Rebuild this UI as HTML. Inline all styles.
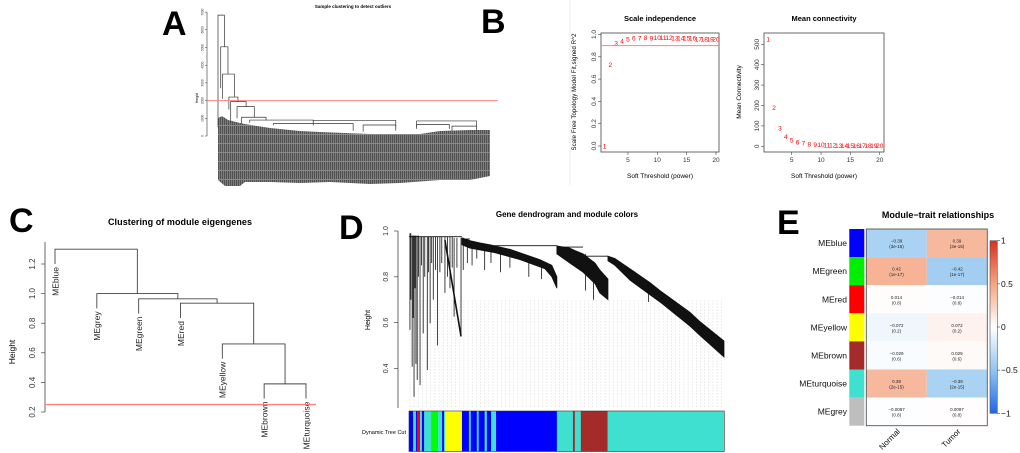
<!DOCTYPE html>
<html><head><meta charset="utf-8"><style>
html,body{margin:0;padding:0;background:#fff;}
svg{display:block;font-family:"Liberation Sans",Arial,sans-serif;}
</style></head><body>
<svg id="fig" width="1020" height="453" viewBox="0 0 1020 453" xmlns="http://www.w3.org/2000/svg">
<defs>
<pattern id="leafpat" width="2" height="9" patternUnits="userSpaceOnUse"><rect width="2" height="9" fill="#8a8a8a"/><rect width="1.2" height="8" fill="#505050"/></pattern>
<linearGradient id="cbar" x1="0" y1="0" x2="0" y2="1">
<stop offset="0" stop-color="#d7301f"/><stop offset="0.25" stop-color="#f4a582"/><stop offset="0.5" stop-color="#ffffff"/><stop offset="0.75" stop-color="#92c5f0"/><stop offset="1" stop-color="#2166e6"/>
</linearGradient>
</defs>
<line x1="570" y1="0" x2="570" y2="185" stroke="#eee"/>
<g font-weight="bold" font-size="34" fill="#000">
<text x="162" y="35">A</text>
<text x="481" y="33">B</text>
<text x="9" y="232">C</text>
<text x="339" y="239">D</text>
<text x="777" y="234">E</text>
</g>
<text x="353" y="8" font-size="4.5" font-weight="bold" text-anchor="middle">Sample clustering to detect outliers</text>
<text x="660" y="21" font-size="7.5" font-weight="bold" text-anchor="middle">Scale independence</text>
<text x="824" y="21" font-size="7.5" font-weight="bold" text-anchor="middle">Mean connectivity</text>
<text x="180" y="225" font-size="9" font-weight="bold" text-anchor="middle" textLength="144">Clustering of module eigengenes</text>
<text x="567" y="217" font-size="8" font-weight="bold" text-anchor="middle">Gene dendrogram and module colors</text>
<text x="938" y="218" font-size="9" font-weight="bold" text-anchor="middle">Module−trait relationships</text>
<text transform="translate(198,98) rotate(-90)" font-size="3.5" text-anchor="middle">Height</text>
<text transform="translate(576,92) rotate(-90)" font-size="6" text-anchor="middle" textLength="117">Scale Free Topology Model Fit,signed R^2</text>
<text x="660" y="178" font-size="6.5" text-anchor="middle">Soft Threshold (power)</text>
<text transform="translate(741,92) rotate(-90)" font-size="6.5" text-anchor="middle">Mean Connectivity</text>
<text x="824" y="178" font-size="6.5" text-anchor="middle">Soft Threshold (power)</text>
<text transform="translate(15,352) rotate(-90)" font-size="8.5" text-anchor="middle">Height</text>
<text transform="translate(370,320) rotate(-90)" font-size="7" text-anchor="middle">Height</text>
<text x="406" y="434" font-size="5.5" text-anchor="end">Dynamic Tree Cut</text>
<g id="root"></g>
</svg>
<script>
const NS='http://www.w3.org/2000/svg';
const root=document.getElementById('root');
function mk(tag,attrs,parent){const e=document.createElementNS(NS,tag);for(const k in attrs)e.setAttribute(k,attrs[k]);(parent||root).appendChild(e);return e;}

/* ---------- Panel A data ---------- */
const aTicks=[0,1000,2000,3000,4000,5000,6000,7000];
const aCutHeight=2000;
const aMerges=[[0,7,6830,500,5040],[3,11,5040,2700,3500],[5,18,3500,2100,2200],[12,22,2200,1500,1940],[14,31,1940,800,1660],[21,40,1660,1000,1060],[26,53,1060,700,900],[35,105,900,750,820],[105,196,880,600,500],[61,149,700,600,300],[219,285,850,500,550],[219,255,650,400,400],[258,285,560,300,300],[160,196,620,250,300]];
/* ---------- Panel B data ---------- */
const bPowers=[1,2,3,4,5,6,7,8,9,10,11,12,13,14,15,16,17,18,19,20];
const bR2=[0.0,0.73,0.92,0.94,0.96,0.965,0.965,0.97,0.965,0.97,0.97,0.97,0.965,0.965,0.965,0.965,0.96,0.96,0.96,0.96];
const bConn=[525,190,88,48,30,21,15,11,9,7,6,5,4,4,3,3,2,2,2,2];
const bR2Ticks=[0,0.2,0.4,0.6,0.8,1.0];
const bConnTicks=[0,100,200,300,400,500];
const bXTicks=[5,10,15,20];
/* ---------- Panel C data ---------- */
const cLeaves=['MEblue','MEgrey','MEgreen','MEred','MEyellow','MEbrown','MEturquoise'];
const cMerge=[[-6,-7],[-5,1],[-4,2],[-3,3],[-2,4],[-1,5]];
const cHeights=[0.39,0.66,0.935,0.965,1.0,1.30];
const cTicks=[0.2,0.4,0.6,0.8,1.0,1.2];
const cCut=0.25;
/* ---------- Panel D data ---------- */
const dTicks=[0.4,0.6,0.8,1.0];
const dTopLinks=[[0,168,0.975],[168,193,0.965],[193,469,0.936],[469,552,0.93],[552,631,0.89]];
const dBandUpper=[[[168,0.97],[193,0.958],[225,0.948],[257,0.94],[320,0.92],[352,0.905],[415,0.875],[453,0.85],[469,0.80]],[[469,0.935],[510,0.925],[526,0.915],[552,0.90],[590,0.86],[605,0.83],[631,0.79]],[[631,0.89],[653,0.88],[701,0.835],[764,0.775],[796,0.74],[891,0.645],[922,0.605],[999,0.52]]];
const dBandLower=[[[469,0.75],[453,0.80],[431,0.835],[352,0.875],[273,0.905],[193,0.925],[168,0.94]],[[631,0.70],[605,0.73],[590,0.77],[552,0.82],[510,0.86],[469,0.90]],[[999,0.45],[922,0.545],[891,0.585],[796,0.69],[701,0.785],[653,0.85],[631,0.87]]];
const dDrops=[[3,0.99,0.568],[6,0.99,0.70],[10,0.98,0.407],[13,0.98,0.62],[16,0.98,0.276],[19,0.98,0.75],[22,0.98,0.42],[26,0.98,0.35],[30,0.98,0.80],[35,0.975,0.327],[40,0.975,0.85],[45,0.975,0.553],[50,0.975,0.80],[58,0.975,0.393],[62,0.975,0.82],[67,0.975,0.597],[72,0.975,0.86],[77,0.975,0.70],[84,0.975,0.83],[90,0.975,0.50],[98,0.975,0.82],[104,0.975,0.86],[114,0.975,0.73],[122,0.975,0.80],[130,0.975,0.75],[137,0.975,0.84],[143,0.97,0.626],[152,0.97,0.84],[165,0.97,0.54],[172,0.97,0.83],[185,0.96,0.86],[200,0.955,0.85],[215,0.95,0.88],[240,0.945,0.83],[260,0.94,0.86],[290,0.93,0.82],[320,0.91,0.84],[380,0.88,0.80],[420,0.86,0.79],[560,0.90,0.74],[585,0.86,0.70],[760,0.77,0.69],[840,0.69,0.64],[900,0.62,0.58]];
const dSlant=[[114,0.96],[165,0.54]];
const dModules=[['blue',0,13],['turquoise',13,22],['blue',22,26],['red',26,35],['turquoise',35,41],['blue',41,48],['turquoise',48,70],['green',70,92],['turquoise',92,105],['blue',105,111],['turquoise',111,114],['yellow',114,168],['blue',168,190],['turquoise',190,196],['blue',196,215],['turquoise',215,221],['blue',221,240],['turquoise',240,247],['blue',247,260],['turquoise',260,276],['blue',276,469],['turquoise',469,520],['brown',520,526],['turquoise',526,545],['brown',545,630],['turquoise',630,1000]];
/* ---------- Panel E data ---------- */
const eModules=['MEblue','MEgreen','MEred','MEyellow','MEbrown','MEturquoise','MEgrey'];
const eColors=['#0000ff','#00ee00','#ff0000','#ffff00','#a52a2a','#40e0d0','#bebebe'];
const eTraits=['Normal','Tumor'];
const eCorNormal=[-0.39,0.42,0.014,-0.072,-0.029,0.39,-0.0097];
const eCorTumor=[0.39,-0.42,-0.014,0.072,0.029,-0.39,0.0097];
const ePval=['3e-15','1e-17','0.8','0.2','0.6','2e-15','0.8'];
const eBarTicks=[1,0.5,0,-0.5,-1];

/* ===== Panel A ===== */
const xA=i=>218+i*0.907, yA=h=>136-h*0.0177;
const gA=mk('g',{});


const leaves=mk('polygon',{points:'218,118 222,116 228,120 240,123 245,124 270,128 300,131 320,132 370,134 420,134 440,131 470,130 490,130 490,176 480,178 470,180 440,180 400,183 370,184 330,182 300,183 270,182 245,182 240,186 225,186 218,180',fill:'url(#leafpat)'},gA);


aMerges.forEach(m=>{
  const p=mk('path',{d:`M${xA(m[0])},${yA(m[3])}V${yA(m[2])}H${xA(m[1])}V${yA(m[4])}`,fill:'none',stroke:'#333','stroke-width':0.7},gA);
  
  
});
const axA=mk('line',{x1:207,y1:yA(0),x2:207,y2:yA(7000),stroke:'#333','stroke-width':0.6});


aTicks.forEach(t=>{
  const l=mk('line',{x1:205,x2:207,y1:yA(t),y2:yA(t),stroke:'#333','stroke-width':0.5});
  
  
  const tx=mk('text',{transform:`translate(203.5,${yA(t)}) rotate(-90)`,'font-size':3.2,'text-anchor':'middle',fill:'#333'});
  tx.textContent=t;
  
  
});
const cutA=mk('line',{x1:207,x2:498,y1:yA(aCutHeight),y2:yA(aCutHeight),stroke:'#ff8080','stroke-width':1});



/* ===== Panel B ===== */
function bPanel(box,xs,ys,vals,yticks,prefix,tickFmt){
  const r=mk('rect',{x:box[0],y:box[1],width:box[2]-box[0],height:box[3]-box[1],fill:'none',stroke:'#444','stroke-width':0.8});
  
  
  yticks.forEach(t=>{
    const l=mk('line',{x1:box[0]-3,x2:box[0],y1:ys(t),y2:ys(t),stroke:'#444','stroke-width':0.6});
    
    
    const tx=mk('text',{transform:`translate(${box[0]-5},${ys(t)}) rotate(-90)`,'font-size':6.5,'text-anchor':'middle',fill:'#333'});
    tx.textContent=tickFmt(t);
    
    
  });
  bXTicks.forEach(t=>{
    const l=mk('line',{x1:xs(t),x2:xs(t),y1:box[3],y2:box[3]+3,stroke:'#444','stroke-width':0.6});
    
    
    const tx=mk('text',{x:xs(t),y:box[3]+10,'font-size':6.5,'text-anchor':'middle',fill:'#333'});
    tx.textContent=t;
    
    
  });
  bPowers.forEach((p,i)=>{
    const tx=mk('text',{x:xs(p),y:ys(vals[i])+2.3,'font-size':6.5,'text-anchor':'middle',fill:'#ff0000'});
    tx.textContent=p;
    
    
  });
}
const xB1=p=>604.5+(p-1)*5.867, yB1=v=>146-v*111.5;
bPanel([601,33,719,152],xB1,yB1,bR2,bR2Ticks,'b-scale',t=>t.toFixed(1));
const cutB=mk('line',{x1:601,x2:719,y1:yB1(0.9),y2:yB1(0.9),stroke:'#ff8080','stroke-width':1});


const xB2=p=>768.2+(p-1)*5.87, yB2=v=>146.3-v*0.204;
bPanel([764,33,884,152],xB2,yB2,bConn,bConnTicks,'b-conn',t=>t);

/* ===== Panel C ===== */
const xC=i=>55+i*41.83, yC=h=>412-(h-0.2)*148;
const axC=mk('line',{x1:45,x2:45,y1:412,y2:242,stroke:'#444','stroke-width':0.8});


cTicks.forEach(t=>{
  const l=mk('line',{x1:41,x2:45,y1:yC(t),y2:yC(t),stroke:'#444','stroke-width':0.7});
  
  
  const tx=mk('text',{transform:`translate(35,${yC(t)}) rotate(-90)`,'font-size':8,'text-anchor':'middle',fill:'#333'});
  tx.textContent=t.toFixed(1);
  
  
});
const cNodeX=[],cNodeH=[];
cMerge.forEach((m,k)=>{
  const h=cHeights[k];
  const ends=m.map(id=>{
    if(id<0){const x=xC(-id-1);const e=h-0.1;
      const tx=mk('text',{transform:`translate(${x+3.3},${yC(e)+3}) rotate(-90)`,'font-size':8.5,'text-anchor':'end',fill:'#222'});
      tx.textContent=cLeaves[-id-1];
      
      
      return [x,e];}
    return [cNodeX[id-1],cNodeH[id-1]];
  });
  const p=mk('path',{d:`M${ends[0][0]},${yC(ends[0][1])}V${yC(h)}H${ends[1][0]}V${yC(ends[1][1])}`,fill:'none',stroke:'#444','stroke-width':0.9});
  
  
  cNodeX.push((ends[0][0]+ends[1][0])/2);cNodeH.push(h);
});
const cutC=mk('line',{x1:45,x2:316,y1:yC(cCut),y2:yC(cCut),stroke:'#ff8080','stroke-width':1.4});



/* ===== Panel D ===== */
const xD=i=>409+i*0.3153, yD=h=>231+(1-h)*229;
for(let k=0;k<76;k++){
  const x=410+k*4.15;
  const l=mk('line',{x1:x,x2:x,y1:300,y2:408,stroke:'#e2e2e2','stroke-width':0.6,'stroke-dasharray':'2,1'});
  
  
}
const axD=mk('line',{x1:398,x2:398,y1:yD(1.0),y2:408,stroke:'#444','stroke-width':0.8});


dTicks.forEach(t=>{
  const l=mk('line',{x1:394,x2:398,y1:yD(t),y2:yD(t),stroke:'#444','stroke-width':0.7});
  
  
  const tx=mk('text',{transform:`translate(388,${yD(t)}) rotate(-90)`,'font-size':7,'text-anchor':'middle',fill:'#333'});
  tx.textContent=t.toFixed(1);
  
  
});
dTopLinks.forEach(s=>{
  const l=mk('line',{x1:xD(s[0]),x2:xD(s[1]),y1:yD(s[2]),y2:yD(s[2]),stroke:'#111','stroke-width':0.9});
  
  
});
dBandUpper.forEach((up,k)=>{
  const pts=up.concat(dBandLower[k]).map(p=>xD(p[0])+','+yD(p[1])).join(' ');
  const pg=mk('polygon',{points:pts,fill:'#111',stroke:'#111','stroke-width':0.8});
  
  
});
dDrops.forEach(d=>{
  const l=mk('line',{x1:xD(d[0]),x2:xD(d[0]),y1:yD(d[1]),y2:yD(d[2]),stroke:'#111','stroke-width':0.8});
  
  
});
const sl=mk('line',{x1:xD(dSlant[0][0]),y1:yD(dSlant[0][1]),x2:xD(dSlant[1][0]),y2:yD(dSlant[1][1]),stroke:'#111','stroke-width':1.6});


const dCol={blue:'#0000ff',turquoise:'#40e0d0',red:'#ff0000',green:'#00ff00',yellow:'#ffff00',brown:'#a52a2a'};
dModules.forEach(m=>{
  const r=mk('rect',{x:xD(m[1]),y:411,width:xD(m[2])-xD(m[1])+0.2,height:40.5,fill:dCol[m[0]]});
  
  
});
const dBox=mk('rect',{x:409,y:411,width:315.3,height:40.5,fill:'none',stroke:'#333','stroke-width':0.6});



/* ===== Panel E ===== */
function cellColor(v){
  const a=Math.min(1,Math.abs(v));
  const mid=v>=0?[244,165,130]:[146,197,240], end=v>=0?[215,48,39]:[33,102,230];
  let c;
  if(a<=0.5){const t=a/0.5;c=[0,1,2].map(j=>255+(mid[j]-255)*t);}
  else{const t=(a-0.5)/0.5;c=[0,1,2].map(j=>mid[j]+(end[j]-mid[j])*t);}
  return 'rgb('+c.map(Math.round).join(',')+')';
}
const eX0=866.3,eX1=987.3,eY0=229,rowH=(425.7-229)/7,colW=(eX1-eX0)/2;
eModules.forEach((m,i)=>{
  const y=eY0+i*rowH;
  const sw=mk('rect',{x:849.3,y:y,width:15,height:rowH,fill:eColors[i]});
  
  
  const lb=mk('text',{x:847,y:y+rowH/2+3,'font-size':8.5,'text-anchor':'end',fill:'#111'});
  lb.textContent=m;
  
  
  [eCorNormal[i],eCorTumor[i]].forEach((v,j)=>{
    const x=eX0+j*colW;
    const c=mk('rect',{x:x,y:y,width:colW,height:rowH,fill:cellColor(v)});
    
    
    const t1=mk('text',{x:x+colW/2,y:y+rowH/2-0.5,'font-size':4.5,'text-anchor':'middle',fill:'#222'});
    t1.textContent=String(v).replace('-','−');
    
    
    const t2=mk('text',{x:x+colW/2,y:y+rowH/2+5,'font-size':4.5,'text-anchor':'middle',fill:'#222'});
    t2.textContent='('+ePval[i]+')';
    
    
  });
});
const eFrame=mk('rect',{x:eX0,y:eY0,width:eX1-eX0,height:rowH*7,fill:'none',stroke:'#555','stroke-width':0.9});


eTraits.forEach((t,j)=>{
  const x=eX0+j*colW+colW/2+4;
  const tx=mk('text',{transform:`translate(${x},432) rotate(-45)`,'font-size':8,'text-anchor':'end',fill:'#111'});
  tx.textContent=t;
  
  
});
const yE=v=>327-v*86.3;
const cb=mk('rect',{x:990,y:yE(1),width:7.3,height:yE(-1)-yE(1),fill:'url(#cbar)',stroke:'#555','stroke-width':0.6});


eBarTicks.forEach(t=>{
  const l=mk('line',{x1:997.3,x2:1000,y1:yE(t),y2:yE(t),stroke:'#444','stroke-width':0.6});
  
  
  const tx=mk('text',{x:1001,y:yE(t)+3,'font-size':8.5,fill:'#111'});
  tx.textContent=String(t).replace('-','−');
  
  
});
</script>
</body></html>
